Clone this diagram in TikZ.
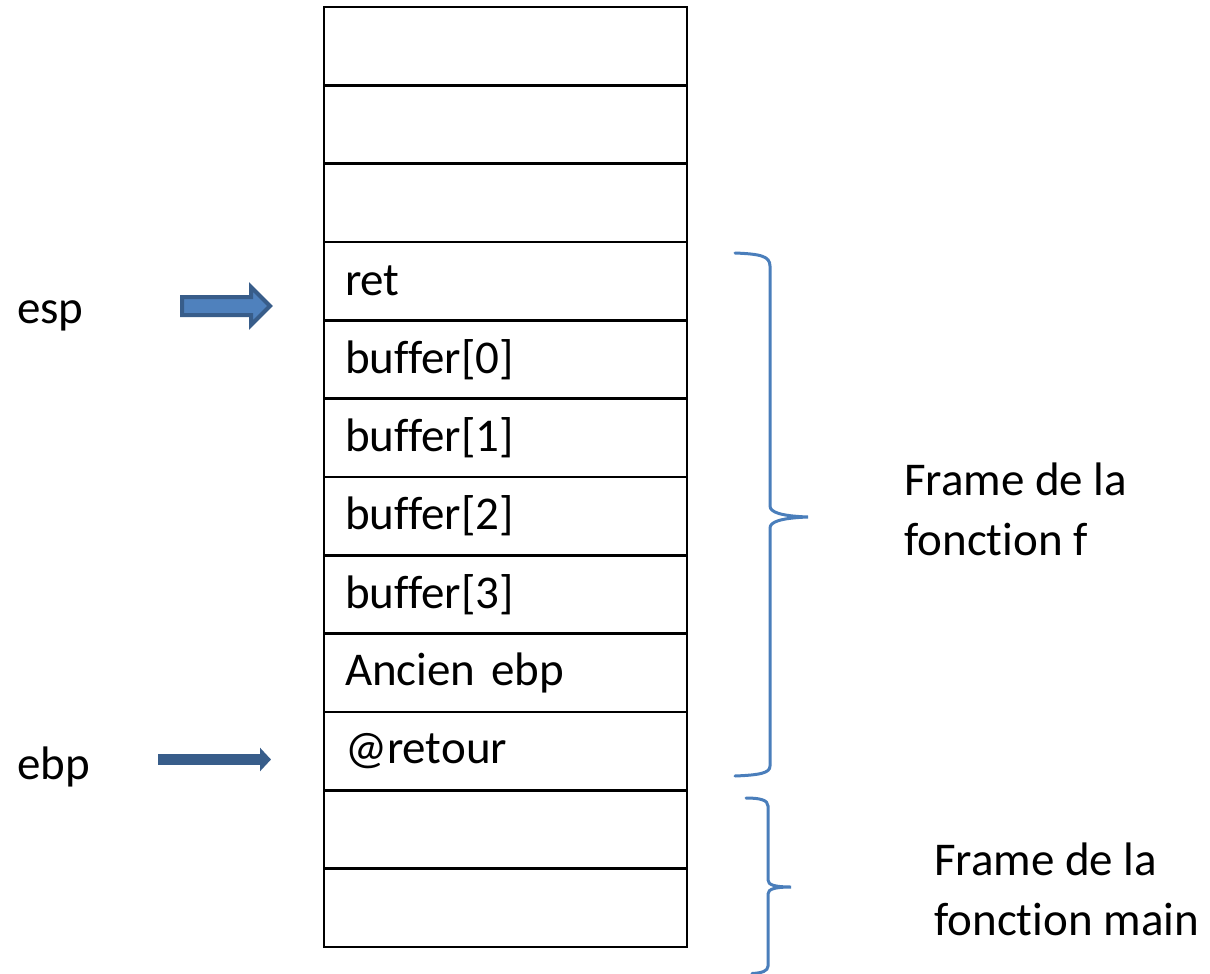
\documentclass[tikz,border=0pt]{standalone}
\usepackage{fontspec}
\setmainfont[Ligatures={NoCommon,NoRare,NoContextual}]{Carlito}
\usetikzlibrary{arrows.meta,calc}
\definecolor{stackline}{RGB}{0,0,0}
\definecolor{ptrdark}{RGB}{56,93,138}
\definecolor{ptrfill}{RGB}{79,129,189}
\definecolor{bracecol}{RGB}{74,126,187}
\tikzset{
  cell/.style={draw=stackline, line width=2.4pt, minimum height=78.33pt,
    text width=321pt, inner xsep=21pt, inner ysep=0pt, align=left,
    font=\fontsize{47}{56}\selectfont},
  lbl/.style={inner sep=0pt, anchor=west, font=\fontsize{47}{56}\selectfont},
  twoline/.style={inner sep=0pt, anchor=north west, align=left,
    font=\fontsize{47}{60}\selectfont},
  brace/.style={draw=bracecol, line width=3pt, line cap=round},
}
\begin{document}
\begin{tikzpicture}[x=1pt, y=-1pt]
\useasboundingbox (0,0) rectangle (1210,974);

% stack cells, top to bottom
\node[cell] (s1)  at (505.5,46.2)  {\strut};
\node[cell] (s2)  at (505.5,124.5) {\strut};
\node[cell] (s3)  at (505.5,202.8) {\strut};
\node[cell] (s4)  at (505.5,281.2) {ret};
\node[cell] (s5)  at (505.5,359.5) {buffer[0]};
\node[cell] (s6)  at (505.5,437.8) {buffer[1]};
\node[cell] (s7)  at (505.5,516.2) {buffer[2]};
\node[cell] (s8)  at (505.5,594.5) {buffer[3]};
\node[cell] (s9)  at (505.5,672.8) {Ancien ebp};
\node[cell] (s10) at (505.5,751.2) {@retour};
\node[cell] (s11) at (505.5,829.5) {\strut};
\node[cell] (s12) at (505.5,907.8) {\strut};

% register names
\node[lbl] (esp) at (17,316) {esp};
\node[lbl] (ebp) at (17,767) {ebp};

% esp pointer: outlined block arrow
\coordinate (espA) at (182,306);
\coordinate (espB) at (270,306);
\filldraw[fill=ptrfill, draw=ptrdark, line width=4pt, line join=miter]
  ($(espA)+(0,-9)$) -- ($(espB)+(-19,-9)$) -- ($(espB)+(-19,-19)$) -- (espB)
  -- ($(espB)+(-19,19)$) -- ($(espB)+(-19,9)$) -- ($(espA)+(0,9)$) -- cycle;

% ebp pointer
\coordinate (ebpA) at (158,759.5);
\coordinate (ebpB) at (271,759.5);
\draw[ptrdark, line width=11pt, -{Triangle[length=11pt,width=23pt]}] (ebpA) -- (ebpB);

% brace over the frame of f
\draw[brace] (735,253) .. controls (760,254) and (770,256) .. (770,266)
  -- (770,506) .. controls (770,512) and (780,516) .. (808,517)
  .. controls (780,518) and (770,522) .. (770,528)
  -- (770,766) .. controls (770,773) and (760,775) .. (735,776);
\node[twoline] (ff) at (904,463) {Frame de la\\fonction f};

% brace over the frame of main
\draw[brace] (746,798) .. controls (760,798) and (768,800) .. (768,806)
  -- (768,880) .. controls (768,885) and (775,887) .. (791,887)
  .. controls (775,887) and (768,889) .. (768,894)
  -- (768,966) .. controls (768,971) and (762,973) .. (752,973.5);
\node[twoline] (fm) at (934,843) {Frame de la\\fonction main};
\end{tikzpicture}
\end{document}
